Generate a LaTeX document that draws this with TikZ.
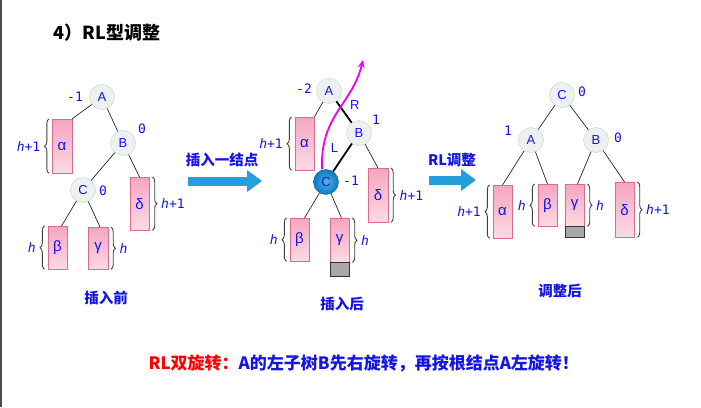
\documentclass[tikz,border=0pt]{standalone}
\usepackage{fontspec}
\setmainfont{Liberation Sans}
\newfontfamily\cjk{Noto Sans CJK SC}
\newfontfamily\monof{DejaVu Sans Mono}
\usetikzlibrary{arrows.meta, positioning, calc, decorations.pathreplacing}
\definecolor{NB}{RGB}{20,20,230}
\definecolor{PK}{RGB}{245,165,192}
\definecolor{PKl}{RGB}{252,218,228}
\definecolor{PKd}{RGB}{215,110,145}
\definecolor{CG}{RGB}{238,241,241}
\definecolor{CGd}{RGB}{200,206,206}
\definecolor{AB}{RGB}{35,160,220}
\definecolor{CB}{RGB}{15,120,190}
\definecolor{MG}{RGB}{240,0,240}
\definecolor{GB}{RGB}{168,168,168}

\begin{document}
\begin{tikzpicture}[x=1pt, y=-1pt,
  vtx/.style={circle, draw=CGd, fill=CG, minimum size=25pt, inner sep=0pt,
              text=NB, font=\fontsize{13}{13}\selectfont},
  hot/.style={vtx, draw=CB!80!black, inner color=AB!80, outer color=CB},
  sub/.style={rectangle, draw=PKd, top color=PK, bottom color=PKl,
              minimum width=19.5pt, minimum height=#1, inner sep=0pt,
              anchor=north, text=NB, font=\fontsize{15}{15}\selectfont},
  gbox/.style={rectangle, draw=black!80, fill=GB, minimum width=19.5pt,
               minimum height=#1, inner sep=0pt, anchor=north},
  bf/.style={text=NB, font=\monof\fontsize{13}{13}\selectfont},
  ht/.style={text=NB, font=\monof\fontsize{13}{13}\selectfont},
  brc/.style={decorate, decoration={brace, amplitude=4.5pt}, draw=black!75, line width=0.9pt},
  edg/.style={draw=black!85, line width=0.7pt},
  hvy/.style={draw=black, line width=1.8pt},
  bigarr/.style={draw=AB, line width=9pt, -{Triangle[length=15pt, width=21pt]}},
  cjkb/.style={text=NB, font=\cjk\bfseries\fontsize{14.5}{14.5}\selectfont},
  lbl/.style={text=NB, font=\fontsize{13}{13}\selectfont}
]
\useasboundingbox (0,0) rectangle (701,407);
\fill[white] (0,0) rectangle (701,407);
\draw[line width=2.2pt, black!70] (1,0) -- (1,407);

% title
\node[anchor=west, font=\cjk\bfseries\fontsize{18}{18}\selectfont] (ttl) at (50,33) {4）RL型调整};

% ---- before insertion
\node[vtx] (a1) at (102,97) {A};
\node[vtx] (b1) at (123,143) {B};
\node[vtx] (c1) at (83,190) {C};
\node[sub=54pt] (al1) at (62,119) {α};
\node[sub=53pt] (de1) at (139.5,177) {δ};
\node[sub=43pt] (be1) at (57.5,226) {β};
\node[sub=42pt] (ga1) at (98,227) {γ};
\node[bf] at (75,97) {-1};
\node[bf] at (142,129) {0};
\node[bf] at (103,191) {0};
\draw[edg] (a1) -- (al1.north east);
\draw[edg] (a1) -- (b1);
\draw[edg] (b1) -- (c1);
\draw[edg] (b1) -- (de1.north);
\draw[edg] (c1) -- ([xshift=4pt]be1.north);
\draw[edg] (c1) -- ([xshift=2pt]ga1.north);
\draw[brc] ([xshift=-3pt]al1.south west) -- ([xshift=-3pt]al1.north west)
  node[midway, left=5pt, ht]{{\itshape h}+1};
\draw[brc] ([xshift=3pt]de1.north east) -- ([xshift=3pt]de1.south east)
  node[midway, right=5pt, ht]{{\itshape h}+1};
\draw[brc] ([xshift=-3pt]be1.south west) -- ([xshift=-3pt]be1.north west)
  node[midway, left=5pt, ht]{{\itshape h}};
\draw[brc] ([xshift=3pt]ga1.north east) -- ([xshift=3pt]ga1.south east)
  node[midway, right=5pt, ht]{{\itshape h}};
\node[cjkb] (cap1) at (106,298) {插入前};

% ---- arrow 1
\coordinate (ar1s) at (188,181);
\coordinate (ar1e) at (262,181);
\draw[bigarr] (ar1s) -- (ar1e);
\node[cjkb] (ar1t) at (222,160) {插入一结点};

% ---- after insertion
\node[vtx] (a2) at (329,91) {A};
\node[vtx] (b2) at (359,133) {B};
\node[hot] (c2) at (326,182) {C};
\node[sub=53pt] (al2) at (304.5,117) {α};
\node[sub=54pt] (de2) at (378,168) {δ};
\node[sub=43pt] (be2) at (299.5,218) {β};
\node[sub=44pt] (ga2) at (339.5,218) {γ};
\node[gbox=14pt] (gx2) at (ga2.south) {};
\node[bf] at (304,89) {-2};
\node[bf] at (376,120) {1};
\node[bf] at (351,181) {-1};
\draw[edg] (a2) -- (al2.north east);
\draw[hvy] (a2) -- (b2) node[lbl, pos=0.55, above right=-1pt and 1pt]{R};
\draw[hvy] (b2) -- (c2) node[lbl, pos=0.45, above left=-1pt and 1pt]{L};
\draw[edg] (b2) -- (de2.north);
\draw[edg] (c2) -- ([xshift=5pt]be2.north);
\draw[edg] (c2) -- ([xshift=2pt]ga2.north);
\draw[brc] ([xshift=-3pt]al2.south west) -- ([xshift=-3pt]al2.north west)
  node[midway, left=5pt, ht]{{\itshape h}+1};
\draw[brc] ([xshift=3pt]de2.north east) -- ([xshift=3pt]de2.south east)
  node[midway, right=5pt, ht]{{\itshape h}+1};
\draw[brc] ([xshift=-3pt]be2.south west) -- ([xshift=-3pt]be2.north west)
  node[midway, left=5pt, ht]{{\itshape h}};
\draw[brc] ([xshift=3pt]ga2.north east) -- ([xshift=3pt]ga2.south east)
  node[midway, right=5pt, ht]{{\itshape h}};
\coordinate (rot) at (363,60);
\draw[MG, line width=1.8pt, -{Stealth[length=8pt, width=7pt]}]
  ([xshift=-4pt]c2.north) .. controls (320,115) and (352,105) .. (rot);
\node[cjkb] (cap2) at (342,304) {插入后};

% ---- arrow 2
\coordinate (ar2s) at (429,180);
\coordinate (ar2e) at (476,180);
\draw[bigarr] (ar2s) -- (ar2e);
\node[cjkb] (ar2t) at (452,160) {RL调整};

% ---- after adjustment
\node[vtx] (c3) at (562,95) {C};
\node[vtx] (a3) at (531,140) {A};
\node[vtx] (b3) at (596,140) {B};
\node[sub=53pt] (al3) at (502.5,185) {α};
\node[sub=42pt] (be3) at (547.5,184) {β};
\node[sub=42pt] (ga3) at (574.5,184) {γ};
\node[gbox=11pt] (gx3) at (ga3.south) {};
\node[sub=55pt] (de3) at (624.5,182) {δ};
\node[bf] at (582,92) {0};
\node[bf] at (508,131) {1};
\node[bf] at (618,138) {0};
\draw[edg] (c3) -- (a3);
\draw[edg] (c3) -- (b3);
\draw[edg] (a3) -- (al3.north);
\draw[edg] (a3) -- (be3.north);
\draw[edg] (b3) -- ([xshift=3pt]ga3.north);
\draw[edg] (b3) -- (de3.north);
\draw[brc] ([xshift=-3pt]al3.south west) -- ([xshift=-3pt]al3.north west)
  node[midway, left=5pt, ht]{{\itshape h}+1};
\draw[brc] ([xshift=-3pt]be3.south west) -- ([xshift=-3pt]be3.north west)
  node[midway, left=5pt, ht]{{\itshape h}};
\draw[brc] ([xshift=3pt]ga3.north east) -- ([xshift=3pt]ga3.south east)
  node[midway, right=5pt, ht]{{\itshape h}};
\draw[brc] ([xshift=3pt]de3.north east) -- ([xshift=3pt]de3.south east)
  node[midway, right=5pt, ht]{{\itshape h}+1};
\node[cjkb] (cap3) at (560,291) {调整后};

% summary line
\node[anchor=west, text=NB, font=\cjk\bfseries\fontsize{17}{17}\selectfont] (sum) at (145,363)
  {\textcolor{red}{RL双旋转：}A的左子树B先右旋转，再按根结点A左旋转！};
\end{tikzpicture}
\end{document}
